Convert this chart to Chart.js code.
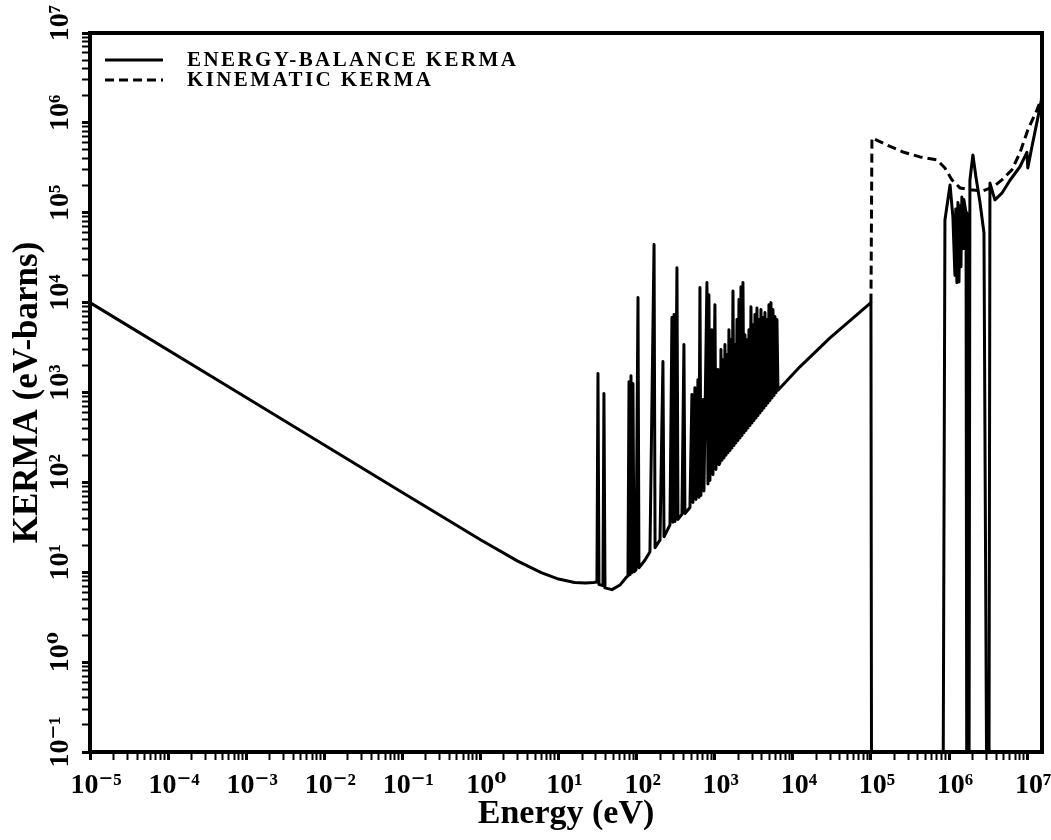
<!DOCTYPE html>
<html>
<head>
<meta charset="utf-8">
<title>KERMA</title>
<script src="https://cdn.jsdelivr.net/npm/chart.js@4.4.1/dist/chart.umd.min.js"></script>
<style>
    html, body { margin: 0; padding: 0; background: #fff; }
    #kermaChart { display: block; }
</style>
</head>
<body>
<canvas id="kermaChart" width="1051" height="840"></canvas>
<script>
// Energy-balance KERMA: energy (eV) and KERMA (eV-barns)
const balanceEnergy = [
    // smooth 1/v part
    1e-5, 1e-3, 1e-1, 1, 3, 6, 10, 16, 22, 28, 31.0,
    // resolved resonances
    31.96, 32.9, 37.0, 38.1, 39.3, 48.3, 61.1, 72.9, 77.4, 79.8, 82.1, 84.6, 87.1, 89.7, 92.4, 98.0,
    104, 107, 128, 148, 167, 172, 199, 217, 224, 267, 283, 292, 301, 310, 328, 338, 380, 403, 415,
    481, 510, 526, 557, 574, 609, 627, 646, 665, 706, 727, 794, 818, 842, 867, 920, 948, 1005, 1035,
    1099, 1132,
    // dense resonance band
    1166, 1201, 1237, 1274, 1312, 1351, 1392, 1433, 1476, 1520, 1566, 1613, 1661, 1711, 1762, 1815,
    1869, 1925, 1982, 2042, 2103, 2166, 2230, 2297, 2366, 2437, 2510, 2585, 2662, 2742, 2824, 2908,
    2995, 3085, 3177, 3272, 3370, 3471, 3575, 3682, 3792, 3905, 4022, 4142, 4266, 4394, 4525, 4661,
    4800, 4944, 5092, 5244, 5401, 5563, 5729, 5901, 6077, 6259, 6446,
    // smooth rise, then the MeV region
    12300, 29900, 1e5, 1.02e5, 8.36e5, 8.86e5, 1.03e6, 1.12e6, 1.19e6, 1.22e6, 1.26e6, 1.30e6,
    1.34e6, 1.38e6, 1.42e6, 1.46e6, 1.51e6, 1.55e6, 1.65e6, 1.69e6, 1.80e6, 1.85e6, 2.02e6, 2.21e6,
    2.49e6, 2.80e6, 3.06e6, 3.24e6, 3.34e6, 3.87e6, 4.75e6, 6.03e6, 8.09e6, 9.93e6, 1.02e7, 1.15e7,
    1.33e7, 1.55e7
];
const balanceKerma = [
    10000, 880, 77, 23, 13.3, 9.9, 8.4, 7.7, 7.6, 7.7, 7.8,
    1625, 7.3, 7.1, 973, 6.7, 6.4, 7.2, 8.7, 9.1, 1320, 9.4, 1540, 9.9, 1260, 10.1, 10.6,
    11370, 11.2, 13.7, 16.9, 44200, 18.7, 22.9, 2210, 24.8, 33.7, 6810, 35.9, 7360, 36.8, 24500, 38.7, 44, 3410, 45.1,
    52.6, 948, 59.8, 1130, 64.6, 1390, 68.1, 14700, 71.6, 835, 80, 16700, 96, 12270, 105, 5000, 122, 9500, 139,
    1800, 157,
    165, 3000, 176, 2320, 187, 3410, 200, 2640, 213, 5000, 227, 3870, 242, 13500, 257, 3410,
    275, 6470, 292, 10800, 312, 15000, 333, 16700, 356, 4400, 378, 3870, 404, 5000, 430, 9000,
    459, 5690, 489, 7360, 521, 8700, 555, 6470, 593, 8360, 631, 6810, 674, 7740, 716, 6470,
    766, 9500, 815, 10000, 871, 8360, 927, 6990, 991, 6470, 1060,
    1930, 4050, 10000, 0.01, 0.01, 83000, 204000, 90000, 20000, 110000, 16600, 130000,
    17000, 120000, 25000, 150000, 40000, 140000, 100000, 0.01, 0.01, 230000, 440000, 250000,
    130000, 60000, 0.01, 0.01, 214000, 139000, 165000, 230000, 325000, 470000, 315000, 540000,
    1e6, 1.94e6
];

// Kinematic KERMA, only where it leaves the energy-balance curve
const kinematicEnergy = [
    1e5, 1.03e5, 1.6e5, 2.57e5, 4.24e5, 7.0e5, 8.86e5, 1.09e6, 1.38e6, 1.85e6, 2.72e6, 3.65e6,
    4.75e6, 6.38e6, 8.09e6, 1.02e7, 1.33e7, 1.55e7
];
const kinematicKerma = [
    10000, 679000, 568000, 474000, 418000, 387000, 315000, 232000, 189000, 180000, 175000, 193000,
    232000, 300000, 465000, 834000, 1.38e6, 1.94e6
];

const energyDecades = [-5, -4, -3, -2, -1, 0, 1, 2, 3, 4, 5, 6, 7];
const kermaDecades = [-1, 0, 1, 2, 3, 4, 5, 6, 7];

const SUPERSCRIPT = {
    '-': '\u207B', '0': '\u2070', '1': '\u00B9', '2': '\u00B2', '3': '\u00B3', '4': '\u2074',
    '5': '\u2075', '6': '\u2076', '7': '\u2077', '8': '\u2078', '9': '\u2079'
};

const FONT_FAMILY = '"Liberation Serif", "DejaVu Serif", serif';

function isDecade(value) {
    const e = Math.log10(value);
    return Math.abs(e - Math.round(e)) < 1e-6;
}

function powerLabel(exp) {
    return '10' + String(exp).split('').map((c) => SUPERSCRIPT[c]).join('');
}

function decadeLabel(decades) {
    return function (value) {
        if (!isDecade(value)) {
            return '';
        }
        const exp = Math.round(Math.log10(value));
        return decades.includes(exp) ? powerLabel(exp) : '';
    };
}

// tick marks at 1..9 times each decade
function logTicks(decades, max) {
    return function (scale) {
        const ticks = [];
        decades.forEach((d) => {
            for (let m = 1; m <= 9; m++) {
                const value = m * Math.pow(10, d);
                if (value <= max * 1.0001) {
                    ticks.push({ value: value, major: m === 1 });
                }
            }
        });
        scale.ticks = ticks;
    };
}

function toPoints(xs, ys) {
    return xs.map((x, i) => ({ x: x, y: ys[i] }));
}

const plotFrame = {
    id: 'plotFrame',
    afterDatasetsDraw(chart) {
        const ctx = chart.ctx;
        const a = chart.chartArea;
        ctx.save();
        ctx.lineWidth = 4;
        ctx.strokeStyle = '#000';
        ctx.strokeRect(a.left, a.top, a.right - a.left, a.bottom - a.top);
        ctx.restore();
    }
};

const kermaLegend = {
    id: 'kermaLegend',
    afterDraw(chart) {
        const ctx = chart.ctx;
        const a = chart.chartArea;
        ctx.save();
        chart.data.datasets.forEach((ds, i) => {
            const y = a.top + 27 + i * 20;
            ctx.beginPath();
            ctx.lineWidth = ds.borderWidth;
            ctx.strokeStyle = ds.borderColor;
            ctx.setLineDash(ds.borderDash || []);
            ctx.moveTo(a.left + 15, y);
            ctx.lineTo(a.left + 73, y);
            ctx.stroke();
            ctx.setLineDash([]);
            ctx.fillStyle = '#000';
            ctx.font = 'bold 21px ' + FONT_FAMILY;
            ctx.letterSpacing = '2.4px';
            ctx.textBaseline = 'middle';
            ctx.textAlign = 'left';
            ctx.fillText(ds.label, a.left + 97, y + 1);
        });
        ctx.restore();
    }
};

const tickFont = { family: FONT_FAMILY, size: 28, weight: 'bold' };
const titleFont = { family: FONT_FAMILY, size: 34, weight: 'bold' };

const axisGrid = {
    drawOnChartArea: false,
    drawTicks: true,
    tickLength: 8,
    color: '#000',
    tickColor: '#000',
    tickWidth: (c) => (c.tick && isDecade(c.tick.value) ? 3 : 2)
};

new Chart(document.getElementById('kermaChart'), {
    type: 'line',
    data: {
        datasets: [
            {
                label: 'ENERGY-BALANCE KERMA',
                data: toPoints(balanceEnergy, balanceKerma),
                borderColor: '#000',
                borderWidth: 3,
                borderJoinStyle: 'round',
                borderCapStyle: 'round',
                pointRadius: 0,
                tension: 0,
                fill: false
            },
            {
                label: 'KINEMATIC KERMA',
                data: toPoints(kinematicEnergy, kinematicKerma),
                borderColor: '#000',
                borderWidth: 3,
                borderDash: [9, 5],
                borderJoinStyle: 'round',
                pointRadius: 0,
                tension: 0,
                fill: false
            }
        ]
    },
    options: {
        responsive: false,
        animation: false,
        devicePixelRatio: 1,
        events: [],
        layout: { padding: { top: 33, right: 9, left: 0, bottom: 0 } },
        plugins: {
            legend: { display: false },
            tooltip: { enabled: false }
        },
        scales: {
            x: {
                type: 'logarithmic',
                position: 'bottom',
                min: 1e-5,
                max: 1.55e7,
                afterBuildTicks: logTicks(energyDecades, 1.55e7),
                afterFit: (scale) => {
                    scale.height = 88;
                    scale.paddingLeft = 0;
                    scale.paddingRight = 0;
                },
                grid: axisGrid,
                border: { display: true, color: '#000', width: 4 },
                ticks: {
                    autoSkip: false,
                    maxRotation: 0,
                    minRotation: 0,
                    padding: 9,
                    labelOffset: 6,
                    color: '#000',
                    font: tickFont,
                    callback: decadeLabel(energyDecades)
                },
                title: {
                    display: true,
                    text: 'Energy (eV)',
                    color: '#000',
                    font: titleFont,
                    padding: { top: 0, bottom: 5 }
                }
            },
            y: {
                type: 'logarithmic',
                position: 'left',
                min: 0.1,
                max: 1e7,
                afterBuildTicks: logTicks(kermaDecades, 1e7),
                afterFit: (scale) => {
                    scale.width = 90;
                    scale.paddingTop = 0;
                    scale.paddingBottom = 0;
                },
                grid: axisGrid,
                border: { display: true, color: '#000', width: 4 },
                ticks: {
                    autoSkip: false,
                    minRotation: 90,
                    maxRotation: 90,
                    crossAlign: 'center',
                    padding: -4,
                    labelOffset: -10,
                    color: '#000',
                    font: tickFont,
                    callback: decadeLabel(kermaDecades)
                },
                title: {
                    display: true,
                    text: 'KERMA (eV-barns)',
                    color: '#000',
                    font: { family: FONT_FAMILY, size: 35, weight: 'bold' },
                    padding: { top: 7, bottom: 0 }
                }
            }
        }
    },
    plugins: [plotFrame, kermaLegend]
});
</script>
</body>
</html>
